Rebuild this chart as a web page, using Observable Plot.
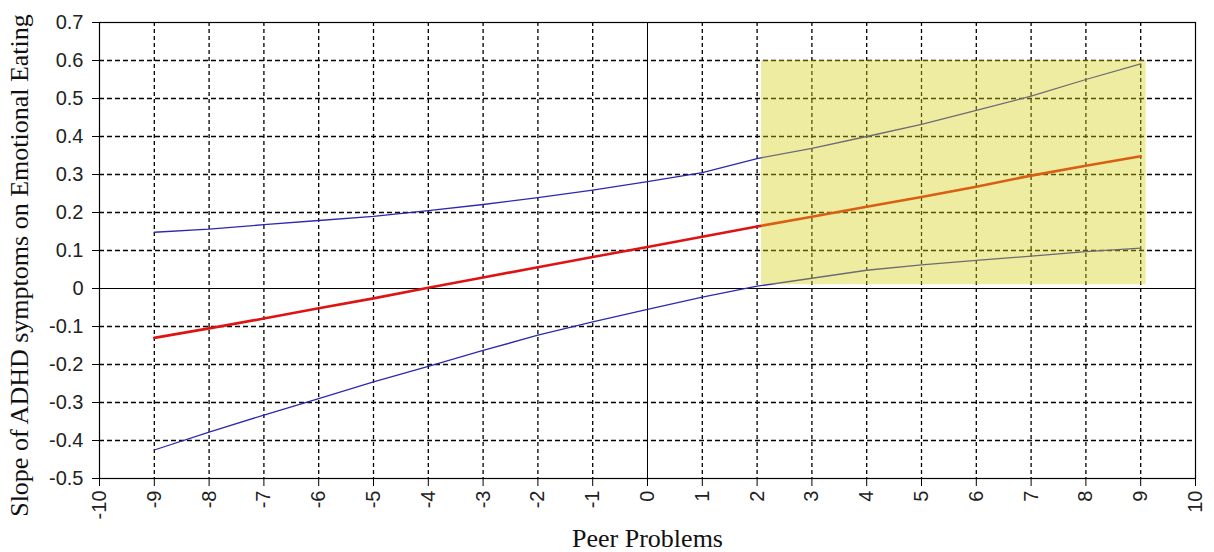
<!DOCTYPE html>
<html>
<head>
<meta charset="utf-8">
<script src="https://cdn.jsdelivr.net/npm/d3@7"></script>
<script src="https://cdn.jsdelivr.net/npm/@observablehq/plot@0.6"></script>
<style>
  html, body { margin: 0; padding: 0; background: white; }
</style>
</head>
<body>
<div id="chart"></div>
<script>
// Moderator values (Peer Problems)
const xValues = [-9, -8, -7, -6, -5, -4, -3, -2, -1, 0, 1, 2, 3, 4, 5, 6, 7, 8, 9];
// Simple slope estimate
const slope = [-0.13, -0.105, -0.079, -0.052, -0.026, 0.002, 0.029, 0.056, 0.083, 0.109, 0.136, 0.163, 0.189, 0.215, 0.241, 0.268, 0.297, 0.323, 0.348];
// Upper confidence band
const upperCI = [0.148, 0.156, 0.168, 0.179, 0.19, 0.205, 0.221, 0.239, 0.259, 0.281, 0.305, 0.342, 0.369, 0.4, 0.432, 0.469, 0.506, 0.55, 0.591];
// Lower confidence band
const lowerCI = [-0.425, -0.378, -0.333, -0.29, -0.246, -0.205, -0.163, -0.123, -0.088, -0.055, -0.023, 0.006, 0.027, 0.048, 0.062, 0.074, 0.085, 0.097, 0.106];
// Region of significance (Johnson-Neyman)
const regionX = [2.08, 9.1];
const regionY = [0.01, 0.6];
// Tick values
const xTicks = d3.range(-10, 11, 1);
const yTicks = [-0.5, -0.4, -0.3, -0.2, -0.1, 0, 0.1, 0.2, 0.3, 0.4, 0.5, 0.6, 0.7];

const rows = xValues.map((x, i) => ({x, slope: slope[i], upper: upperCI[i], lower: lowerCI[i]}));
const fmt = d => Math.abs(d) < 1e-9 ? "0" : String(+d.toFixed(1));

const chart = Plot.plot({
  width: 1214,
  height: 552,
  marginLeft: 99,
  marginRight: 19,
  marginTop: 22,
  marginBottom: 74,
  style: {background: "white", fontFamily: "Arial, 'Liberation Sans', sans-serif"},
  x: {domain: [-10, 10]},
  y: {domain: [-0.5, 0.7]},
  marks: [
    Plot.gridX(xTicks.filter(d => d !== 0 && d !== -10 && d !== 10), {stroke: "black", strokeOpacity: 1, strokeWidth: 1.3, strokeDasharray: "4,3"}),
    Plot.gridY(yTicks.filter(d => d !== 0 && d !== -0.5 && d !== 0.7), {stroke: "black", strokeOpacity: 1, strokeWidth: 1.3, strokeDasharray: "5,3"}),
    Plot.ruleX([0], {stroke: "black", strokeWidth: 1}),
    Plot.ruleY([0], {stroke: "black", strokeWidth: 1}),
    Plot.line(rows, {x: "x", y: "upper", stroke: "#2a2ab0", strokeWidth: 1.3}),
    Plot.line(rows, {x: "x", y: "lower", stroke: "#2a2ab0", strokeWidth: 1.3}),
    Plot.line(rows, {x: "x", y: "slope", stroke: "#dd1414", strokeWidth: 2.6}),
    Plot.rect([{x1: regionX[0], x2: regionX[1], y1: regionY[0], y2: regionY[1]}], {x1: "x1", x2: "x2", y1: "y1", y2: "y2", fill: "rgb(212,207,18)", fillOpacity: 0.4}),
    Plot.frame({stroke: "black", strokeWidth: 1.2}),
    Plot.axisY(yTicks, {tickSize: 7, tickPadding: 9, tickFormat: fmt, fontSize: 20, fill: "#222", stroke: "black", label: null}),
    Plot.axisX(xTicks, {tickSize: 8, tickPadding: 4, tickRotate: -90, tickFormat: fmt, fontSize: 20, fill: "#222", stroke: "black", label: null}),
    Plot.text(["Peer Problems"], {frameAnchor: "bottom", dy: 60, lineAnchor: "middle", textAnchor: "middle", fontFamily: "'Liberation Serif', 'Times New Roman', serif", fontSize: 26, fill: "#111"}),
    Plot.text(["Slope of ADHD symptoms on Emotional Eating"], {frameAnchor: "left", rotate: -90, dx: -80, dy: 15, lineAnchor: "middle", textAnchor: "middle", fontFamily: "'Liberation Serif', 'Times New Roman', serif", fontSize: 26, fill: "#111"})
  ]
});
document.getElementById("chart").appendChild(chart);
</script>
</body>
</html>
